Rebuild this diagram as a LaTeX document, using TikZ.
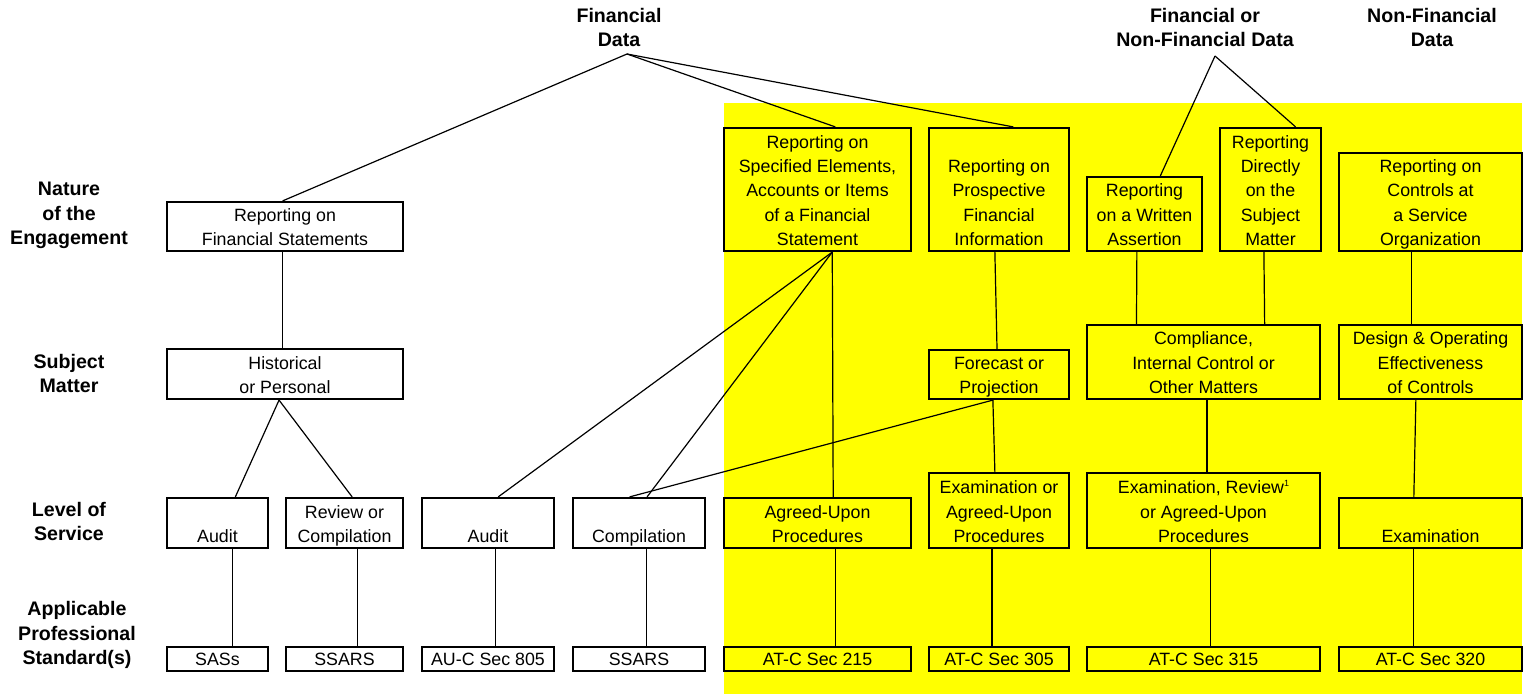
\documentclass[tikz,border=0pt]{standalone}
\usepackage{fontspec}
\setmainfont{Liberation Sans}
\usetikzlibrary{calc}
\definecolor{ylw}{RGB}{255,255,0}
\tikzset{
  bx/.style={draw=black, line width=2.2bp, inner sep=0pt},
  tx/.style={anchor=south, inner sep=0pt, text depth=0pt, align=center,
    font=\fontsize{17.8bp}{24.3bp}\selectfont},
  lb/.style={anchor=south, inner sep=0pt, text depth=0pt, align=center,
    font=\bfseries\fontsize{19.6bp}{24.5bp}\selectfont},
  cn/.style={draw=black, line width=1.2bp},
}
% name x1 y1 x2 y2 fill text
\newcommand\mkbox[7]{%
  \node[bx, fill=#6, minimum width={#4bp-#2bp}, minimum height={#5bp-#3bp}] (#1) at ({(#2+#4)/2},{(#3+#5)/2}) {};
  \node[tx] (#1-t) at ({(#2+#4)/2},{#5-5.5}) {#7};
}
% coordinate name, node, side, fraction
\newcommand\pt[4]{\coordinate (#1) at ($(#2.#3 west)!#4!(#2.#3 east)$);}
\begin{document}
\begin{tikzpicture}[x=1bp,y=-1bp]
\useasboundingbox (0,0) rectangle (1530,694);
\fill[ylw] (724,103) rectangle (1522,694);

% top labels
\node[lb] (findata) at (619,47) {Financial\\Data};
\node[lb] (fnfdata) at (1205,47) {Financial or\\Non-Financial Data};
\node[lb] (nfdata) at (1432,47) {Non-Financial\\Data};
\coordinate (fdapex) at (627,54);
\coordinate (fnapex) at (1215,56);

% row labels
\node[lb] (lnature) at (69,245) {Nature\\of the\\Engagement};
\node[lb] (lsubject) at (69,393) {Subject\\Matter};
\node[lb] (llevel) at (69,541) {Level of\\Service};
\node[lb] (lstd) at (77,665) {Applicable\\Professional\\Standard(s)};

% row 1
\mkbox{rfs}{167}{202}{403}{251}{white}{Reporting on\\Financial Statements}
\mkbox{rse}{724}{128}{911}{251}{ylw}{Reporting on\\Specified Elements,\\Accounts or Items\\of a Financial\\Statement}
\mkbox{rpf}{929}{128}{1069}{251}{ylw}{Reporting on\\Prospective\\Financial\\Information}
\mkbox{rwa}{1087}{177}{1202}{251}{ylw}{Reporting\\on a Written\\Assertion}
\mkbox{rds}{1220}{128}{1321}{251}{ylw}{Reporting\\Directly\\on the\\Subject\\Matter}
\mkbox{rcs}{1339}{153}{1522}{251}{ylw}{Reporting on\\Controls at\\a Service\\Organization}

% row 2
\mkbox{hist}{167}{349}{403}{399}{white}{Historical\\or Personal}
\mkbox{fcst}{929}{350}{1069}{399}{ylw}{Forecast or\\Projection}
\mkbox{comp}{1087}{325}{1320}{399}{ylw}{Compliance,\\Internal Control or\\Other Matters}
\mkbox{dsgn}{1339}{325}{1522}{399}{ylw}{Design \& Operating\\Effectiveness\\of Controls}

% row 3
\mkbox{aud1}{167}{498}{268}{548}{white}{Audit}
\mkbox{revc}{286}{498}{403}{548}{white}{Review or\\Compilation}
\mkbox{aud2}{422}{498}{554}{548}{white}{Audit}
\mkbox{cmpl}{573}{498}{705}{548}{white}{Compilation}
\mkbox{aup}{724}{498}{911}{548}{ylw}{Agreed-Upon\\Procedures}
\mkbox{eaup}{929}{473}{1069}{548}{ylw}{Examination or\\Agreed-Upon\\Procedures}
\mkbox{erap}{1087}{473}{1320}{548}{ylw}{Examination, Review\raisebox{7bp}{\fontsize{9bp}{9bp}\selectfont 1}\\or Agreed-Upon\\Procedures}
\mkbox{exam}{1339}{498}{1522}{548}{ylw}{Examination}

% row 4
\mkbox{sas}{167}{647}{268}{671}{white}{SASs}
\mkbox{ssa}{286}{647}{403}{671}{white}{SSARS}
\mkbox{auc}{422}{647}{554}{671}{white}{AU-C Sec 805}
\mkbox{ssb}{573}{647}{705}{671}{white}{SSARS}
\mkbox{a215}{724}{647}{911}{671}{ylw}{AT-C Sec 215}
\mkbox{a305}{929}{647}{1069}{671}{ylw}{AT-C Sec 305}
\mkbox{a315}{1087}{647}{1320}{671}{ylw}{AT-C Sec 315}
\mkbox{a320}{1339}{647}{1522}{671}{ylw}{AT-C Sec 320}

% connection points
\pt{rfsT}{rfs}{north}{0.49}
\pt{rseT}{rse}{north}{0.594}
\pt{rpfT}{rpf}{north}{0.6}
\pt{rfsB}{rfs}{south}{0.49}
\pt{histT}{hist}{north}{0.49}
\pt{histB}{hist}{south}{0.475}
\pt{aud1T}{aud1}{north}{0.673}
\pt{revcT}{revc}{north}{0.564}
\pt{rseB}{rse}{south}{0.578}
\pt{aud2T}{aud2}{north}{0.576}
\pt{cmplTa}{cmpl}{north}{0.56}
\pt{aupT}{aup}{north}{0.583}
\pt{rpfB}{rpf}{south}{0.471}
\pt{fcstT}{fcst}{north}{0.486}
\pt{fcstB}{fcst}{south}{0.457}
\pt{cmplTb}{cmpl}{north}{0.43}
\pt{eaupT}{eaup}{north}{0.471}
\pt{rwaT}{rwa}{north}{0.635}
\pt{rdsT}{rds}{north}{0.743}
\pt{rwaB}{rwa}{south}{0.435}
\pt{rdsB}{rds}{south}{0.436}
\pt{compTa}{comp}{north}{0.215}
\pt{compTb}{comp}{north}{0.76}
\pt{rcsB}{rcs}{south}{0.399}
\pt{dsgnT}{dsgn}{north}{0.399}
\pt{compB}{comp}{south}{0.515}
\pt{erapT}{erap}{north}{0.515}
\pt{dsgnB}{dsgn}{south}{0.421}
\pt{examT}{exam}{north}{0.41}
% row 3 -> row 4
\pt{aud1B}{aud1}{south}{0.644}
\pt{sasT}{sas}{north}{0.644}
\pt{revcB}{revc}{south}{0.607}
\pt{ssaT}{ssa}{north}{0.607}
\pt{aud2B}{aud2}{south}{0.553}
\pt{aucT}{auc}{north}{0.553}
\pt{cmplB}{cmpl}{south}{0.553}
\pt{ssbT}{ssb}{north}{0.553}
\pt{aupB}{aup}{south}{0.594}
\pt{a215T}{a215}{north}{0.594}
\pt{eaupB}{eaup}{south}{0.45}
\pt{a305T}{a305}{north}{0.45}
\pt{erapB}{erap}{south}{0.528}
\pt{a315T}{a315}{north}{0.528}
\pt{examB}{exam}{south}{0.41}
\pt{a320T}{a320}{north}{0.41}

% connectors
\draw[cn] (fdapex) -- (rfsT);
\draw[cn] (fdapex) -- (rseT);
\draw[cn] (fdapex) -- (rpfT);
\draw[cn] (fnapex) -- (rwaT);
\draw[cn] (fnapex) -- (rdsT);
\draw[cn] (rfsB) -- (histT);
\draw[cn] (histB) -- (aud1T);
\draw[cn] (histB) -- (revcT);
\draw[cn] (rseB) -- (aud2T);
\draw[cn] (rseB) -- (cmplTa);
\draw[cn] (rseB) -- (aupT);
\draw[cn] (rpfB) -- (fcstT);
\draw[cn] (fcstB) -- (cmplTb);
\draw[cn] (fcstB) -- (eaupT);
\draw[cn] (rwaB) -- (compTa);
\draw[cn] (rdsB) -- (compTb);
\draw[cn] (rcsB) -- (dsgnT);
\draw[cn] (compB) -- (erapT);
\draw[cn] (dsgnB) -- (examT);
\draw[cn] (aud1B) -- (sasT);
\draw[cn] (revcB) -- (ssaT);
\draw[cn] (aud2B) -- (aucT);
\draw[cn] (cmplB) -- (ssbT);
\draw[cn] (aupB) -- (a215T);
\draw[cn] (eaupB) -- (a305T);
\draw[cn] (erapB) -- (a315T);
\draw[cn] (examB) -- (a320T);
\end{tikzpicture}
\end{document}
